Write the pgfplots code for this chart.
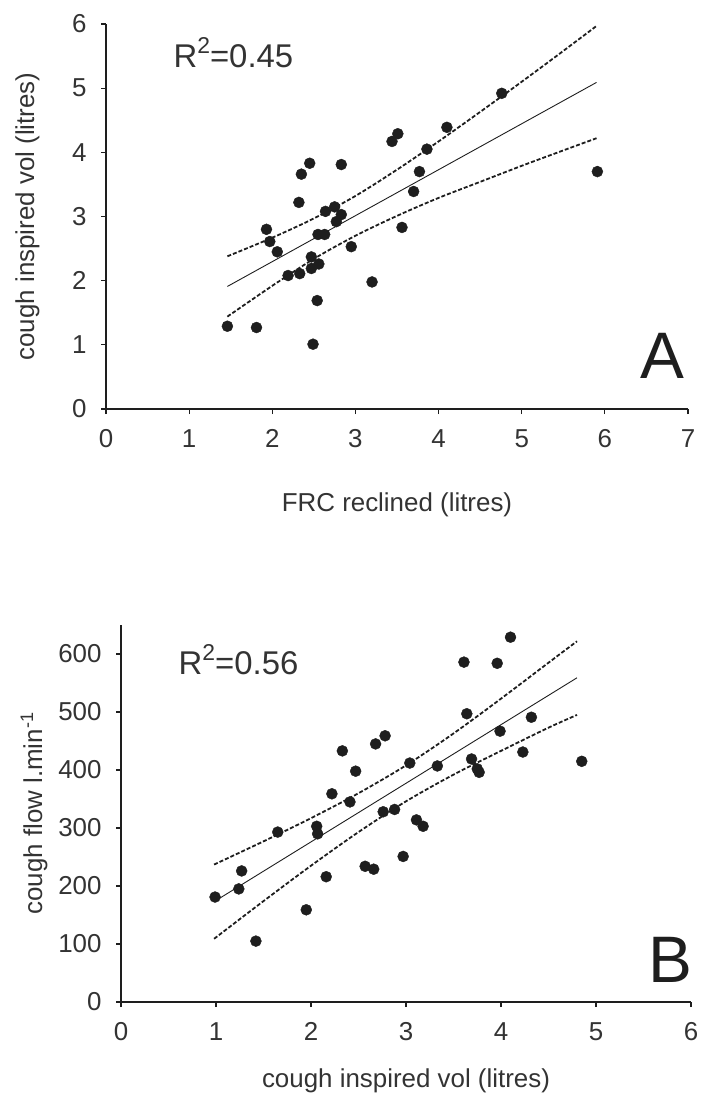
\documentclass[border=0pt]{standalone}
\usepackage{fontspec}
\setmainfont{Liberation Sans}
\usepackage{pgfplots}
\pgfplotsset{compat=1.18}
\definecolor{txt}{HTML}{333333}
\definecolor{ink}{HTML}{1E1E1E}
\pgfplotsset{
  cstyle/.style={
    scale only axis, axis lines=left,
    axis line style={-, line width=1.6bp, ink},
    tick align=outside, major tick length=5bp,
    tick style={line width=1.2bp, ink},
    every tick label/.append style={font=\fontsize{26}{30}\selectfont, text=txt},
    /pgf/number format/assume math mode=true,
    label style={font=\fontsize{26}{30}\selectfont, text=txt},
    xticklabel style={yshift=-12bp},
    yticklabel style={xshift=-11bp},
    clip=false,
  },
  pts/.style={only marks, mark=*, mark size=5.5bp, mark options={fill=ink, draw=ink}},
  fit/.style={no marks, line width=0.9bp, ink},
  band/.style={no marks, line width=1.8bp, ink, dash pattern=on 4bp off 2bp, smooth},
}
\newcommand{\rsq}[1]{R\raisebox{0.42em}{\fontsize{23}{25}\selectfont 2}=#1}
\begin{document}
\begin{tikzpicture}
\useasboundingbox (0,0) rectangle (708bp,-1103bp);
% ---------------- Panel A ----------------
\begin{axis}[cstyle, at={(106bp,-409bp)}, anchor=south west,
  width=582bp, height=385bp,
  xmin=0, xmax=7, ymin=0, ymax=6,
  xtick={0,...,7}, ytick={0,...,6},
  xlabel={FRC reclined (litres)},
  ylabel={cough inspired vol (litres)},
  xlabel style={at={(axis description cs:0.5,-0.2675)}, anchor=base},
  ylabel style={at={(axis description cs:-0.1237,0.5)}, anchor=base},
]
\addplot[pts] coordinates {
(1.46,1.29) (1.81,1.27) (1.93,2.80) (1.97,2.61) (2.06,2.45) (2.19,2.08)
(2.33,2.11) (2.32,3.22) (2.35,3.66) (2.45,3.83) (2.47,2.37) (2.47,2.19)
(2.49,1.01) (2.54,1.69) (2.56,2.26) (2.55,2.72) (2.63,2.72) (2.64,3.08)
(2.75,3.15) (2.77,2.92) (2.83,3.03) (2.83,3.81) (2.95,2.53) (3.20,1.98)
(3.44,4.17) (3.51,4.29) (3.56,2.83) (3.70,3.39) (3.77,3.70) (3.86,4.05)
(4.10,4.39) (4.76,4.92) (5.91,3.70)
};
\addplot[fit] coordinates {(1.46,1.91) (5.90,5.09)};
\addplot[band] coordinates {(1.46,2.38) (2.0,2.67) (2.5,2.97) (3.0,3.32) (3.5,3.73) (4.0,4.17) (4.5,4.63) (5.0,5.10) (5.5,5.58) (5.9,5.97)};
\addplot[band] coordinates {(1.46,1.44) (2.0,1.92) (2.5,2.34) (3.0,2.70) (3.5,3.01) (4.0,3.29) (4.5,3.54) (5.0,3.79) (5.5,4.03) (5.9,4.22)};
\node[anchor=base west, font=\fontsize{33}{36}\selectfont, text=txt] at (axis cs:0.77,5.33) {\rsq{0.45}};
\node[anchor=base west, font=\fontsize{66}{70}\selectfont, text=ink] at (axis cs:6.39,0.48) {A};
\end{axis}
% ---------------- Panel B ----------------
\begin{axis}[cstyle, at={(121bp,-1002bp)}, anchor=south west,
  width=570bp, height=377bp,
  xmin=0, xmax=6, ymin=0, ymax=650,
  xtick={0,...,6}, ytick={0,100,...,600},
  xlabel={cough inspired vol (litres)},
  ylabel={cough flow l.min\textsuperscript{-1}},
  xlabel style={at={(axis description cs:0.5,-0.228)}, anchor=base},
  ylabel style={at={(axis description cs:-0.1386,0.5)}, anchor=base},
]
\addplot[pts] coordinates {
(0.99,181) (1.24,195) (1.27,226) (1.42,105) (1.65,293) (1.95,159)
(2.06,303) (2.07,290) (2.16,216) (2.22,359) (2.33,433) (2.41,345)
(2.47,398) (2.57,234) (2.66,229) (2.68,445) (2.76,328) (2.78,459)
(2.88,332) (2.97,251) (3.04,412) (3.11,314) (3.18,303) (3.33,407)
(3.61,586) (3.64,497) (3.69,419) (3.75,402) (3.77,396) (3.96,584)
(3.99,467) (4.10,629) (4.23,431) (4.32,491) (4.85,415)
};
\addplot[fit] coordinates {(0.98,173) (4.80,559)};
\addplot[band] coordinates {(0.98,237) (1.5,277) (2.0,317) (2.5,360) (3.0,408) (3.5,463) (4.0,523) (4.5,585) (4.8,622)};
\addplot[band] coordinates {(0.98,109) (1.5,174) (2.0,235) (2.5,293) (3.0,346) (3.5,392) (4.0,433) (4.5,473) (4.8,495)};
\node[anchor=base west, font=\fontsize{33}{36}\selectfont, text=txt] at (axis cs:0.57,565.5) {\rsq{0.56}};
\node[anchor=base west, font=\fontsize{66}{70}\selectfont, text=ink] at (axis cs:5.52,32.8) {B};
\end{axis}
\end{tikzpicture}
\end{document}
